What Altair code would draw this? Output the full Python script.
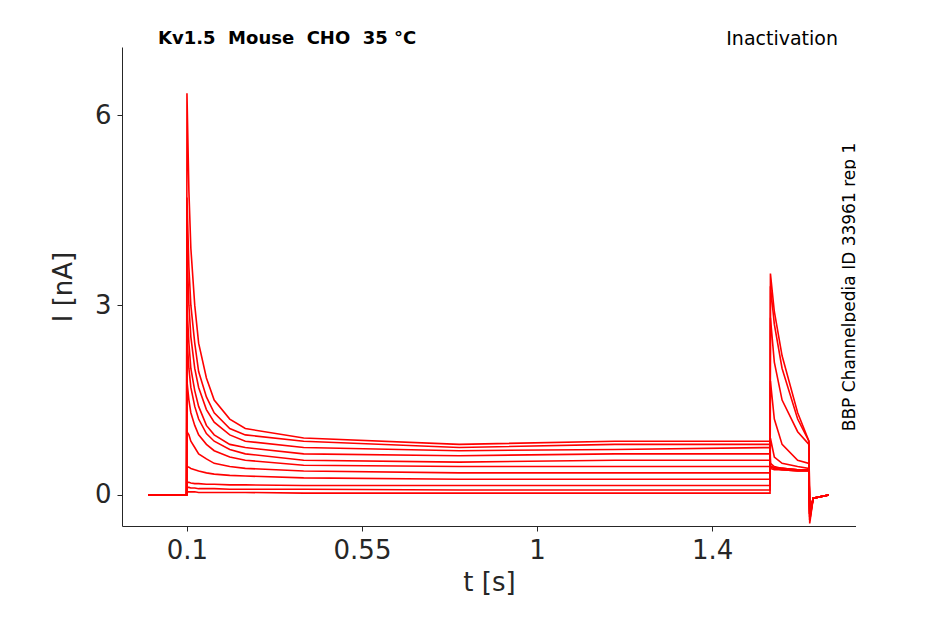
import pandas as pd
import altair as alt

# shared sample times (s)
t = [0.0, 0.099, 0.1, 0.105, 0.11, 0.12, 0.13, 0.15, 0.17, 0.21, 0.25, 0.4, 0.8, 1.2, 1.599,
     1.6, 1.61, 1.63, 1.67, 1.699, 1.701, 1.71, 1.75]

# current traces (nA)
traces = {
    "s1": [0, 0, 6.35, 4.8, 3.9, 3.0, 2.4, 1.85, 1.5, 1.2, 1.05, 0.9, 0.8, 0.85, 0.85, 0.45, 0.42, 0.4, 0.4, 0.4, -0.4, -0.05, 0],
    "s2": [0, 0, 4.7, 3.6, 3.0, 2.4, 1.95, 1.55, 1.3, 1.05, 0.95, 0.85, 0.75, 0.8, 0.8, 0.45, 0.43, 0.42, 0.4, 0.4, -0.35, -0.05, 0],
    "s3": [0, 0, 3.9, 3.0, 2.5, 2.0, 1.7, 1.35, 1.15, 0.95, 0.85, 0.75, 0.7, 0.72, 0.75, 0.45, 0.43, 0.42, 0.4, 0.4, -0.3, -0.05, 0],
    "s4": [0, 0, 3.0, 2.4, 2.0, 1.65, 1.4, 1.1, 0.95, 0.8, 0.75, 0.65, 0.62, 0.65, 0.65, 0.42, 0.4, 0.4, 0.38, 0.38, -0.3, -0.05, 0],
    "s5": [0, 0, 2.5, 2.0, 1.7, 1.4, 1.2, 0.97, 0.85, 0.72, 0.65, 0.55, 0.52, 0.55, 0.55, 0.45, 0.42, 0.4, 0.38, 0.38, -0.3, -0.05, 0],
    "s6": [0, 0, 1.8, 1.5, 1.3, 1.1, 0.95, 0.8, 0.7, 0.6, 0.55, 0.47, 0.45, 0.45, 0.45, 0.5, 0.45, 0.42, 0.4, 0.4, -0.3, -0.05, 0],
    "s7": [0, 0, 1.0, 0.95, 0.85, 0.75, 0.65, 0.57, 0.5, 0.45, 0.42, 0.38, 0.35, 0.35, 0.35, 0.9, 0.6, 0.5, 0.45, 0.42, -0.3, -0.05, 0],
    "s8": [0, 0, 0.45, 0.44, 0.42, 0.4, 0.38, 0.35, 0.33, 0.31, 0.3, 0.27, 0.25, 0.25, 0.25, 1.8, 1.2, 0.8, 0.55, 0.5, -0.3, -0.05, 0],
    "s9": [0, 0, 0.2, 0.2, 0.19, 0.18, 0.18, 0.17, 0.17, 0.16, 0.16, 0.15, 0.15, 0.15, 0.15, 2.8, 2.1, 1.5, 1.0, 0.8, -0.35, -0.05, 0],
    "s10": [0, 0, 0.12, 0.12, 0.11, 0.11, 0.1, 0.1, 0.1, 0.09, 0.09, 0.09, 0.08, 0.08, 0.08, 3.3, 2.7, 2.0, 1.2, 0.85, -0.4, -0.05, 0],
    "s11": [0, 0, 0.05, 0.05, 0.05, 0.05, 0.04, 0.04, 0.04, 0.04, 0.04, 0.03, 0.03, 0.03, 0.03, 3.5, 2.9, 2.2, 1.3, 0.85, -0.45, -0.05, 0],
}

rows = []
for name, vals in traces.items():
    for i, (ti, v) in enumerate(zip(t, vals)):
        rows.append({"trace": name, "t": ti, "I": v, "order": i})
df = pd.DataFrame(rows)

ink = "#262626"
lines = alt.Chart(df).mark_line(color="#ff0000", strokeWidth=1.6, clip=True).encode(
    alt.X("t:Q", title="t [s]").scale(domain=[-0.067, 1.82], nice=False, zero=False)
        .axis(values=[0.1, 0.55, 1, 1.45], format="~g", grid=False, labelFontSize=26,
              titleFontSize=26, titleFontWeight="normal", labelPadding=6, titlePadding=6,
              tickSize=5, domainColor=ink, tickColor=ink, labelColor=ink, titleColor=ink),
    alt.Y("I:Q", title="I [nA]").scale(domain=[-0.49, 7.08], nice=False, zero=False)
        .axis(values=[0, 3, 6], grid=False, labelFontSize=26, titleFontSize=26,
              titleFontWeight="normal", labelPadding=6, titlePadding=18,
              tickSize=5, domainColor=ink, tickColor=ink, labelColor=ink, titleColor=ink),
    detail="trace:N",
    order="order:Q",
)

title_l = alt.Chart().mark_text(text="Kv1.5\u00a0\u00a0Mouse\u00a0\u00a0CHO\u00a0\u00a035 °C", fontSize=18,
                                fontWeight="bold", align="left", baseline="middle").encode(
    x=alt.value(36), y=alt.value(-8))
title_r = alt.Chart().mark_text(text="Inactivation", fontSize=19, align="right",
                                baseline="middle").encode(
    x=alt.value(716), y=alt.value(-8))
side = alt.Chart().mark_text(text="BBP Channelpedia ID 33961 rep 1", fontSize=17, angle=270,
                             align="center", baseline="middle").encode(
    x=alt.value(728), y=alt.value(240))

chart = alt.layer(lines, title_l, title_r, side).properties(
    width=734, height=479,
    autosize=alt.AutoSizeParams(type="none"),
    padding={"left": 114, "top": 39, "right": 0, "bottom": 90},
).configure(font="DejaVu Sans").configure_view(stroke=None)

chart.save("out.html", embed_options={"renderer": "svg", "actions": False})
